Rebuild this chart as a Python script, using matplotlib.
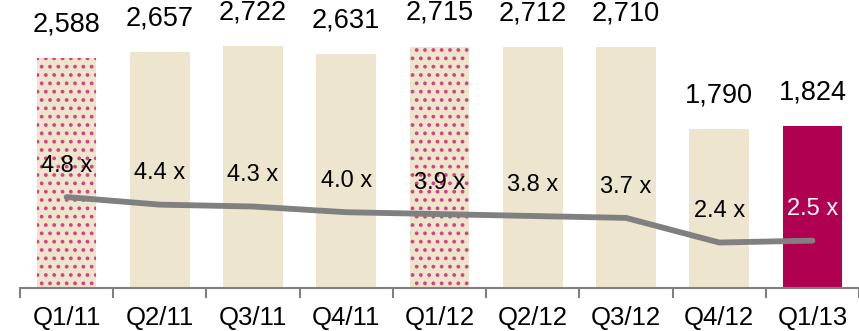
import numpy as np
import matplotlib.pyplot as plt

plt.rcParams['font.family'] = ['Liberation Sans', 'DejaVu Sans']
plt.rcParams['hatch.linewidth'] = 1.5

quarters = ['Q1/11', 'Q2/11', 'Q3/11', 'Q4/11', 'Q1/12', 'Q2/12', 'Q3/12', 'Q4/12', 'Q1/13']
volumes = [2588, 2657, 2722, 2631, 2715, 2712, 2710, 1790, 1824]
multiples = [4.8, 4.4, 4.3, 4.0, 3.9, 3.8, 3.7, 2.4, 2.5]
dotted = [True, False, False, False, True, False, False, False, False]

beige = '#ede5cd'
pink_dot = '#d8407e'
crimson = '#b00052'
grey = '#808080'

fig = plt.figure(figsize=(8.59, 3.31), dpi=100)
ax = fig.add_axes([20 / 859, 43 / 331, 839 / 859, 288 / 331])
ax2 = ax.twinx()

x = np.arange(len(quarters))
for i, (v, d) in enumerate(zip(volumes, dotted)):
    last = i == len(quarters) - 1
    color = crimson if last else beige
    if d:
        ax.bar(x[i], v, width=0.64, color=beige, edgecolor=pink_dot,
               linewidth=0, hatch='..')
    else:
        ax.bar(x[i], v, width=0.64, color=color, linewidth=0)
    ax.text(x[i], v + 380, f'{v:,}', ha='center', va='center', fontsize=19.5)

ax.set_ylim(0, 3240)
ax.set_xlim(-0.5, 8.4)

ax2.plot(x, multiples, color=grey, lw=4.2, solid_capstyle='round',
         solid_joinstyle='round', zorder=3)
ax2.set_ylim(0, 15.2)
for i, m in enumerate(multiples):
    last = i == len(quarters) - 1
    ax2.text(x[i], m + 1.65, f'{m} x', ha='center', va='center', fontsize=17,
             color='white' if last else 'black')

# category boundaries as tick marks, names on minor ticks
ax.set_xticks(np.arange(-0.5, 9, 1.0))
ax.set_xticklabels([])
ax.set_xticks(x, minor=True)
ax.set_xticklabels(quarters, minor=True, fontsize=18.5)
ax.tick_params(axis='x', which='major', length=7, width=1.5, color=grey, direction='out')
ax.tick_params(axis='x', which='minor', length=0, pad=13)

for a in (ax, ax2):
    a.set_yticks([])
    for s in ('top', 'right', 'left', 'bottom'):
        a.spines[s].set_visible(False)
ax.spines['bottom'].set_visible(True)
ax.spines['bottom'].set_color(grey)
ax.spines['bottom'].set_linewidth(1.5)
ax.patch.set_visible(False)

fig.savefig('out.png', dpi=100)
